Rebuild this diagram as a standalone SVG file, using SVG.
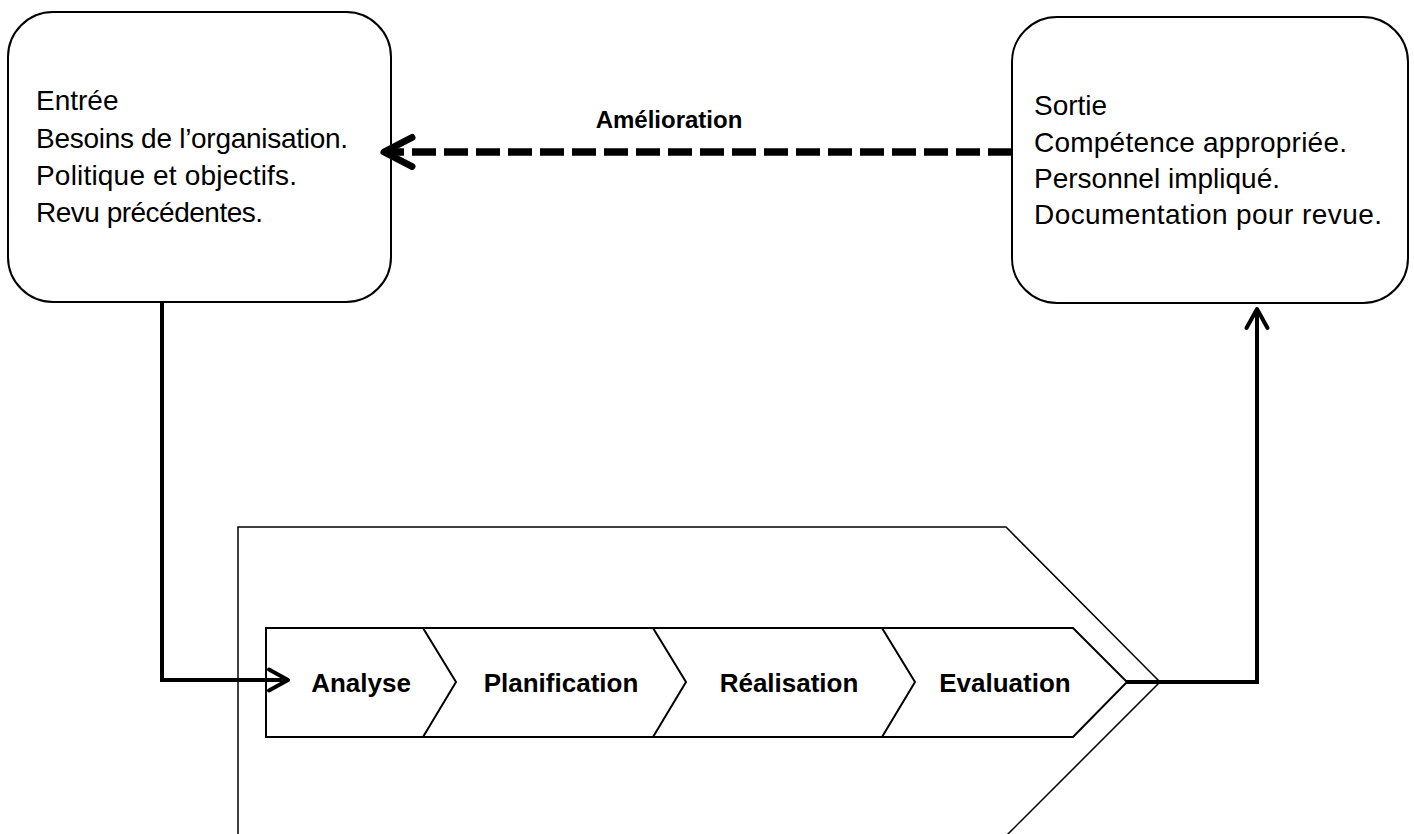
<svg xmlns="http://www.w3.org/2000/svg" width="1414" height="834" viewBox="0 0 1414 834">
<style>
.box{fill:#fff;stroke:#000;stroke-width:2}
.txt{font-family:"Liberation Sans",Arial,sans-serif;font-size:28px;fill:#000}
.lbl{font-family:"Liberation Sans",Arial,sans-serif;font-size:26px;font-weight:bold;fill:#000;text-anchor:middle}
.outline{fill:none;stroke:#000;stroke-width:1.5}
.row{fill:#fff;stroke:#000;stroke-width:2;stroke-linejoin:miter}
.sep{fill:none;stroke:#000;stroke-width:2}
.conn{fill:none;stroke:#000;stroke-width:4}
.dash{fill:none;stroke:#000;stroke-width:7.5;stroke-dasharray:24 8}
.ahead{fill:none;stroke:#000;stroke-linecap:round;stroke-linejoin:round}
</style>
<defs>
<marker id="arrThin" markerUnits="userSpaceOnUse" viewBox="-25 -15 30 30" markerWidth="30" markerHeight="30" refX="0" refY="0" orient="auto" overflow="visible">
<path class="ahead" d="M-19,-10.5 L0,0 L-19,10.5" stroke-width="4"/>
</marker>
<marker id="arrThick" markerUnits="userSpaceOnUse" viewBox="-35 -20 40 40" markerWidth="40" markerHeight="40" refX="0" refY="0" orient="auto" overflow="visible">
<path class="ahead" d="M-28,-14.5 L0,0 L-28,14.5" stroke-width="7"/>
</marker>
</defs>

<g id="process-outline">
<polygon class="outline" points="238,527 1006,527 1160,682 1005,837 238,837"/>
</g>

<g id="process-row">
<polygon class="row" points="266,628 1073,628 1127,682 1073,737 266,737"/>
<polyline class="sep" points="423,628 456,682 423,737"/>
<polyline class="sep" points="653,628 686,682 653,737"/>
<polyline class="sep" points="882,628 915,682 882,737"/>
</g>

<g id="step-analyse"><text class="lbl" x="361" y="692">Analyse</text></g>
<g id="step-planification"><text class="lbl" x="561" y="692">Planification</text></g>
<g id="step-realisation"><text class="lbl" x="789" y="692">Réalisation</text></g>
<g id="step-evaluation"><text class="lbl" x="1005" y="692">Evaluation</text></g>

<g id="entree">
<rect class="box" x="8" y="12" width="383" height="290" rx="45" ry="45"/>
<text class="txt" x="36" y="110">Entrée</text>
<text class="txt" x="36" y="148" textLength="312" lengthAdjust="spacing">Besoins de l’organisation.</text>
<text class="txt" x="36" y="185" textLength="261" lengthAdjust="spacing">Politique et objectifs.</text>
<text class="txt" x="36" y="222" textLength="227" lengthAdjust="spacing">Revu précédentes.</text>
</g>

<g id="sortie">
<rect class="box" x="1012" y="17" width="396" height="286" rx="45" ry="45"/>
<text class="txt" x="1034" y="115">Sortie</text>
<text class="txt" x="1034" y="152" textLength="313" lengthAdjust="spacing">Compétence appropriée.</text>
<text class="txt" x="1034" y="188" textLength="246" lengthAdjust="spacing">Personnel impliqué.</text>
<text class="txt" x="1034" y="224" textLength="348" lengthAdjust="spacing">Documentation pour revue.</text>
</g>

<g id="connectors">
<path class="conn" d="M162,302 V680 H288" marker-end="url(#arrThin)"/>
<path class="conn" d="M1126,682 H1257 V309" marker-end="url(#arrThin)"/>
<path class="dash" d="M1012,152 H384" marker-end="url(#arrThick)"/>
<text x="669" y="128" font-family="Liberation Sans, Arial, sans-serif" font-size="24" font-weight="bold" text-anchor="middle">Amélioration</text>
</g>
</svg>
